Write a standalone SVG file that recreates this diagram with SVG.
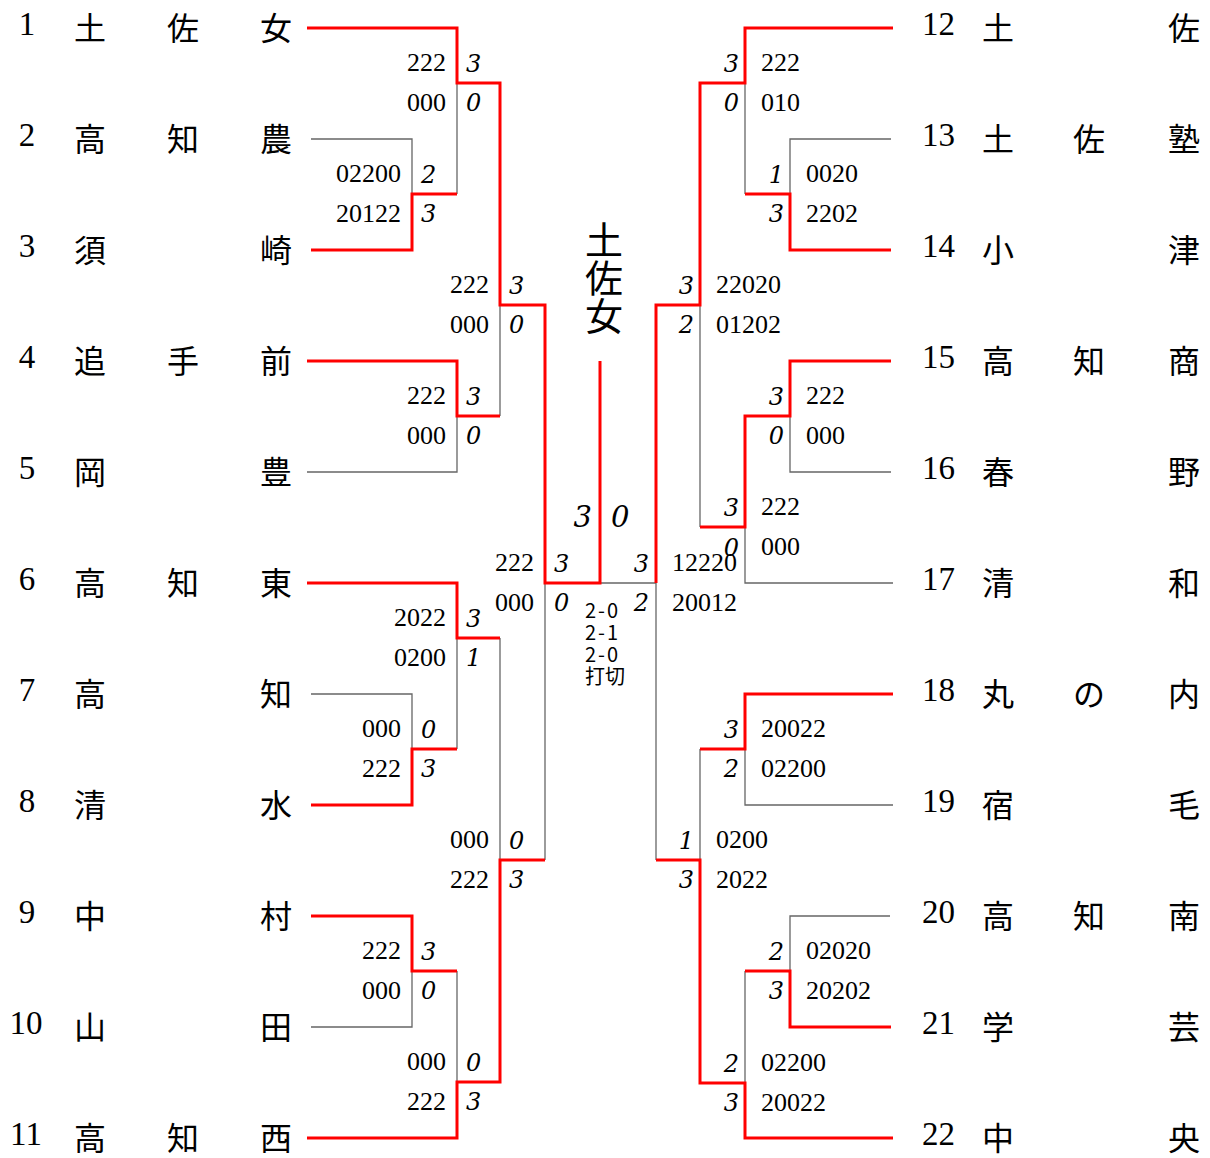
<svg xmlns="http://www.w3.org/2000/svg" width="1210" height="1158" viewBox="0 0 1210 1158">
<style>
.t{font-family:"Liberation Serif",serif;font-size:33px;fill:#000}
.tl{text-anchor:middle}
.n{font-family:"Noto Sans CJK JP","Noto Sans CJK SC",sans-serif;font-size:32px;text-anchor:middle;fill:#000}
.s{font-family:"Liberation Serif",serif;font-size:26px;fill:#000}
.i{font-family:"DejaVu Serif",serif;font-style:italic;font-size:24px;fill:#000}
.e{text-anchor:end}
.r{fill:none;stroke:#ff0000;stroke-width:3}
.g{fill:none;stroke:#666;stroke-width:1.3}
.c{font-family:"Noto Sans CJK JP",sans-serif;font-size:20px;fill:#000}
.d{letter-spacing:2px}
.w{font-family:"Noto Sans CJK JP",sans-serif;font-size:38px;text-anchor:middle;fill:#000}
.f{font-family:"DejaVu Serif",serif;font-style:italic;font-size:29px;fill:#000}
</style>
<rect width="1210" height="1158" fill="#fff"/>
<g id="connectors">
<g class="g">
<path d="M311,139 H412 V194"/>
<path d="M457,83 V194"/>
<path d="M500,305 V416"/>
<path d="M307,472 H457 V416"/>
<path d="M311,694 H412 V749"/>
<path d="M457,638 V749"/>
<path d="M500,638 V860"/>
<path d="M545,583 V860"/>
<path d="M311,1027 H412 V971"/>
<path d="M457,971 V1082"/>
<path d="M600,583 H656"/>
<path d="M891,139 H790 V194"/>
<path d="M745,83 V194"/>
<path d="M700,305 V527"/>
<path d="M891,472 H790 V416"/>
<path d="M893,583 H745 V527"/>
<path d="M893,805 H745 V749"/>
<path d="M700,749 V860"/>
<path d="M656,583 V860"/>
<path d="M890,916 H790 V971"/>
<path d="M745,971 V1083"/>
</g>
<g class="r">
<path d="M307,28 H457 V83 H500 V305 H545 V583 H600 V361"/>
<path d="M311,250 H412 V194 H457"/>
<path d="M307,361 H457 V416 H500"/>
<path d="M307,583 H457 V638 H500"/>
<path d="M311,805 H412 V749 H457"/>
<path d="M307,1138 H457 V1082 H500 V860 H545"/>
<path d="M311,916 H412 V971 H457"/>
<path d="M893,28 H745 V83 H700 V305 H656 V583"/>
<path d="M891,250 H790 V194 H745"/>
<path d="M891,361 H790 V416 H745 V527 H700"/>
<path d="M893,694 H745 V749 H700"/>
<path d="M893,1138 H745 V1083 H700 V860 H656"/>
<path d="M891,1027 H790 V971 H745"/>
</g>
</g>
<g id="team1"><text class="t tl" x="27" y="35">1</text><text class="n" x="90" y="40">土</text><text class="n" x="183" y="40">佐</text><text class="n" x="276" y="40">女</text></g>
<g id="team2"><text class="t tl" x="27" y="146">2</text><text class="n" x="90" y="151">高</text><text class="n" x="183" y="151">知</text><text class="n" x="276" y="151">農</text></g>
<g id="team3"><text class="t tl" x="27" y="257">3</text><text class="n" x="90" y="262">須</text><text class="n" x="276" y="262">崎</text></g>
<g id="team4"><text class="t tl" x="27" y="368">4</text><text class="n" x="90" y="373">追</text><text class="n" x="183" y="373">手</text><text class="n" x="276" y="373">前</text></g>
<g id="team5"><text class="t tl" x="27" y="479">5</text><text class="n" x="90" y="484">岡</text><text class="n" x="276" y="484">豊</text></g>
<g id="team6"><text class="t tl" x="27" y="590">6</text><text class="n" x="90" y="595">高</text><text class="n" x="183" y="595">知</text><text class="n" x="276" y="595">東</text></g>
<g id="team7"><text class="t tl" x="27" y="701">7</text><text class="n" x="90" y="706">高</text><text class="n" x="276" y="706">知</text></g>
<g id="team8"><text class="t tl" x="27" y="812">8</text><text class="n" x="90" y="817">清</text><text class="n" x="276" y="817">水</text></g>
<g id="team9"><text class="t tl" x="27" y="923">9</text><text class="n" x="90" y="928">中</text><text class="n" x="276" y="928">村</text></g>
<g id="team10"><text class="t tl" x="26" y="1034">10</text><text class="n" x="90" y="1039">山</text><text class="n" x="276" y="1039">田</text></g>
<g id="team11"><text class="t tl" x="26" y="1145">11</text><text class="n" x="90" y="1150">高</text><text class="n" x="183" y="1150">知</text><text class="n" x="276" y="1150">西</text></g>
<g id="team12"><text class="t" x="922" y="35">12</text><text class="n" x="998" y="40">土</text><text class="n" x="1184" y="40">佐</text></g>
<g id="team13"><text class="t" x="922" y="146">13</text><text class="n" x="998" y="151">土</text><text class="n" x="1089" y="151">佐</text><text class="n" x="1184" y="151">塾</text></g>
<g id="team14"><text class="t" x="922" y="257">14</text><text class="n" x="998" y="262">小</text><text class="n" x="1184" y="262">津</text></g>
<g id="team15"><text class="t" x="922" y="368">15</text><text class="n" x="998" y="373">高</text><text class="n" x="1089" y="373">知</text><text class="n" x="1184" y="373">商</text></g>
<g id="team16"><text class="t" x="922" y="479">16</text><text class="n" x="998" y="484">春</text><text class="n" x="1184" y="484">野</text></g>
<g id="team17"><text class="t" x="922" y="590">17</text><text class="n" x="998" y="595">清</text><text class="n" x="1184" y="595">和</text></g>
<g id="team18"><text class="t" x="922" y="701">18</text><text class="n" x="998" y="706">丸</text><text class="n" x="1089" y="706">の</text><text class="n" x="1184" y="706">内</text></g>
<g id="team19"><text class="t" x="922" y="812">19</text><text class="n" x="998" y="817">宿</text><text class="n" x="1184" y="817">毛</text></g>
<g id="team20"><text class="t" x="922" y="923">20</text><text class="n" x="998" y="928">高</text><text class="n" x="1089" y="928">知</text><text class="n" x="1184" y="928">南</text></g>
<g id="team21"><text class="t" x="922" y="1034">21</text><text class="n" x="998" y="1039">学</text><text class="n" x="1184" y="1039">芸</text></g>
<g id="team22"><text class="t" x="922" y="1145">22</text><text class="n" x="998" y="1150">中</text><text class="n" x="1184" y="1150">央</text></g>
<g id="scores-left">
<text class="s e" x="446" y="71">222</text><text class="i" x="466" y="72">3</text><text class="s e" x="446" y="111">000</text><text class="i" x="466" y="111">0</text>
<text class="s e" x="401" y="182">02200</text><text class="i" x="421" y="183">2</text><text class="s e" x="401" y="222">20122</text><text class="i" x="421" y="222">3</text>
<text class="s e" x="489" y="293">222</text><text class="i" x="509" y="294">3</text><text class="s e" x="489" y="333">000</text><text class="i" x="509" y="333">0</text>
<text class="s e" x="446" y="404">222</text><text class="i" x="466" y="405">3</text><text class="s e" x="446" y="444">000</text><text class="i" x="466" y="444">0</text>
<text class="s e" x="534" y="571">222</text><text class="i" x="554" y="572">3</text><text class="s e" x="534" y="611">000</text><text class="i" x="554" y="611">0</text>
<text class="s e" x="446" y="626">2022</text><text class="i" x="466" y="627">3</text><text class="s e" x="446" y="666">0200</text><text class="i" x="466" y="666">1</text>
<text class="s e" x="401" y="737">000</text><text class="i" x="421" y="738">0</text><text class="s e" x="401" y="777">222</text><text class="i" x="421" y="777">3</text>
<text class="s e" x="489" y="848">000</text><text class="i" x="509" y="849">0</text><text class="s e" x="489" y="888">222</text><text class="i" x="509" y="888">3</text>
<text class="s e" x="401" y="959">222</text><text class="i" x="421" y="960">3</text><text class="s e" x="401" y="999">000</text><text class="i" x="421" y="999">0</text>
<text class="s e" x="446" y="1070">000</text><text class="i" x="466" y="1071">0</text><text class="s e" x="446" y="1110">222</text><text class="i" x="466" y="1110">3</text>
</g>
<g id="scores-right">
<text class="i e" x="739" y="72">3</text><text class="s" x="761" y="71">222</text><text class="i e" x="739" y="111">0</text><text class="s" x="761" y="111">010</text>
<text class="i e" x="784" y="183">1</text><text class="s" x="806" y="182">0020</text><text class="i e" x="784" y="222">3</text><text class="s" x="806" y="222">2202</text>
<text class="i e" x="694" y="294">3</text><text class="s" x="716" y="293">22020</text><text class="i e" x="694" y="333">2</text><text class="s" x="716" y="333">01202</text>
<text class="i e" x="784" y="405">3</text><text class="s" x="806" y="404">222</text><text class="i e" x="784" y="444">0</text><text class="s" x="806" y="444">000</text>
<text class="i e" x="739" y="516">3</text><text class="s" x="761" y="515">222</text><text class="i e" x="739" y="556">0</text><text class="s" x="761" y="555">000</text>
<text class="i e" x="649" y="572">3</text><text class="s" x="672" y="571">12220</text><text class="i e" x="649" y="611">2</text><text class="s" x="672" y="611">20012</text>
<text class="i e" x="739" y="738">3</text><text class="s" x="761" y="737">20022</text><text class="i e" x="739" y="777">2</text><text class="s" x="761" y="777">02200</text>
<text class="i e" x="694" y="849">1</text><text class="s" x="716" y="848">0200</text><text class="i e" x="694" y="888">3</text><text class="s" x="716" y="888">2022</text>
<text class="i e" x="784" y="960">2</text><text class="s" x="806" y="959">02020</text><text class="i e" x="784" y="999">3</text><text class="s" x="806" y="999">20202</text>
<text class="i e" x="739" y="1072">2</text><text class="s" x="761" y="1071">02200</text><text class="i e" x="739" y="1111">3</text><text class="s" x="761" y="1111">20022</text>
</g>
<g id="final">
<text class="w"><tspan x="604" y="254">土</tspan><tspan x="604" y="292">佐</tspan><tspan x="604" y="330">女</tspan></text>
<text class="f e" x="592" y="527">3</text><text class="f" x="611" y="527">0</text>
<text class="c d" x="585" y="618">2-0</text>
<text class="c d" x="585" y="640">2-1</text>
<text class="c d" x="585" y="662">2-0</text>
<text class="c" x="585" y="684">打切</text>
</g>
</svg>
